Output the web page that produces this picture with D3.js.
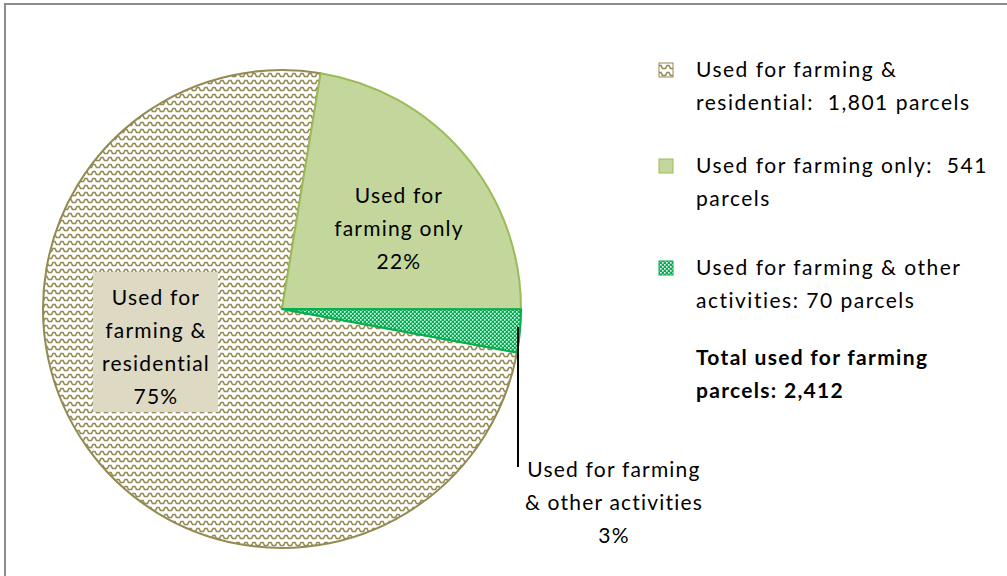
<!DOCTYPE html>
<html>
<head>
<meta charset="utf-8">
<script src="https://cdn.jsdelivr.net/npm/d3@7"></script>
<style>
body{margin:0;background:#fff;}
svg{display:block;font-family:Lato,"Open Sans",sans-serif;}
text{white-space:pre;}
</style>
</head>
<body>
<div id="chart"></div>
<script>
// データ
const categories = ["Used for farming & residential", "Used for farming only", "Used for farming & other activities"];
const parcels = [1801, 541, 70];
const percentLabels = ["75%", "22%", "3%"];
const sliceLabels = [["Used for", "farming &", "residential", "75%"], ["Used for", "farming only", "22%"], ["Used for farming", "& other activities", "3%"]];
const legendLines = [["Used for farming &", "residential:  1,801 parcels"], ["Used for farming only:  541", "parcels"], ["Used for farming & other", "activities: 70 parcels"]];
const totalLines = ["Total used for farming", "parcels: 2,412"];

// 描画設定
const width = 1007, height = 576;
const cx = 282, cy = 309, radius = 239;
const firstSliceAngle = 100.5; // 度
const fills = ["url(#zigzag)", "#c3d69b", "url(#checker)"];
const strokes = ["#948a54", "#9bbb59", "#00b050"];
const labelPos = [[156, 298], [399, 196], [614, 470]];
const lineH = 33;

const svg = d3.select("#chart").append("svg")
	.attr("width", width)
	.attr("height", height);

//パターン定義
const defs = svg.append("defs");
const zz = defs.append("pattern")
	.attr("id", "zigzag")
	.attr("patternUnits", "userSpaceOnUse")
	.attr("width", 8).attr("height", 7);
zz.append("rect").attr("width", 8).attr("height", 7).attr("fill", "#fff");
zz.append("polyline")
	.attr("points", "0,5.5 1.5,5.5 3,2.5 5,2.5 6.5,5.5 8,5.5")
	.attr("fill", "none")
	.attr("stroke", "#948a54")
	.attr("stroke-width", 1.6);

const ck = defs.append("pattern")
	.attr("id", "checker")
	.attr("patternUnits", "userSpaceOnUse")
	.attr("width", 4).attr("height", 4);
ck.append("rect").attr("width", 4).attr("height", 4).attr("fill", "#00b050");
ck.append("rect").attr("x", 0).attr("y", 0).attr("width", 1.6).attr("height", 1.6).attr("fill", "#fff");
ck.append("rect").attr("x", 2).attr("y", 2).attr("width", 1.6).attr("height", 1.6).attr("fill", "#fff");

//外枠
svg.append("rect")
	.attr("x", 5).attr("y", 4)
	.attr("width", 1010).attr("height", 600)
	.attr("fill", "none")
	.attr("stroke", "#8c8c8c")
	.attr("stroke-width", 2);

//円グラフ
const a0 = firstSliceAngle * Math.PI / 180;
const pie = d3.pie().sort(null).startAngle(a0).endAngle(a0 + 2 * Math.PI);
const arc = d3.arc().innerRadius(0).outerRadius(radius);
const arcs = pie(parcels);

const g = svg.append("g").attr("transform", "translate(" + cx + "," + cy + ")");
g.selectAll("path.slice")
	.data(arcs)
	.enter()
	.append("path")
	.attr("class", "slice")
	.attr("d", arc)
	.attr("fill", (d, i) => fills[i])
	.attr("stroke", (d, i) => strokes[i])
	.attr("stroke-width", 2)
	.attr("stroke-linejoin", "round");

//ラベル背景（75%）
svg.append("rect")
	.attr("x", 93).attr("y", 272)
	.attr("width", 125).attr("height", 140)
	.attr("fill", "#ddd9c3");

//リーダー線（3%）
svg.append("line")
	.attr("x1", 518).attr("y1", 327)
	.attr("x2", 518).attr("y2", 467)
	.attr("stroke", "#000")
	.attr("stroke-width", 2);

//スライスラベル
sliceLabels.forEach(function(lines, i){
	const t = svg.append("text")
		.attr("text-anchor", "middle")
		.attr("font-size", 21)
		.attr("letter-spacing", 1.2)
		.attr("fill", "#000");
	lines.forEach(function(s, j){
		t.append("tspan")
			.attr("x", labelPos[i][0])
			.attr("y", labelPos[i][1] + j * lineH + 7)
			.text(s);
	});
});

//凡例
const legendY = [70, 166, 268];
const legend = svg.append("g").attr("class", "legend");
legendLines.forEach(function(lines, i){
	legend.append("rect")
		.attr("x", 659).attr("y", legendY[i] - 7)
		.attr("width", 14).attr("height", 14)
		.attr("fill", fills[i])
		.attr("stroke", strokes[i])
		.attr("stroke-width", 1);
	const t = legend.append("text")
		.attr("font-size", 21)
		.attr("letter-spacing", 1.5)
		.attr("fill", "#000");
	lines.forEach(function(s, j){
		t.append("tspan")
			.attr("x", 696)
			.attr("y", legendY[i] + j * lineH + 7)
			.text(s);
	});
});

const tt = legend.append("text")
	.attr("font-size", 21)
	.attr("letter-spacing", 1.3)
	.attr("font-weight", "bold")
	.attr("fill", "#000");
totalLines.forEach(function(s, j){
	tt.append("tspan")
		.attr("x", 696)
		.attr("y", 358 + j * lineH + 7)
		.text(s);
});
</script>
</body>
</html>
